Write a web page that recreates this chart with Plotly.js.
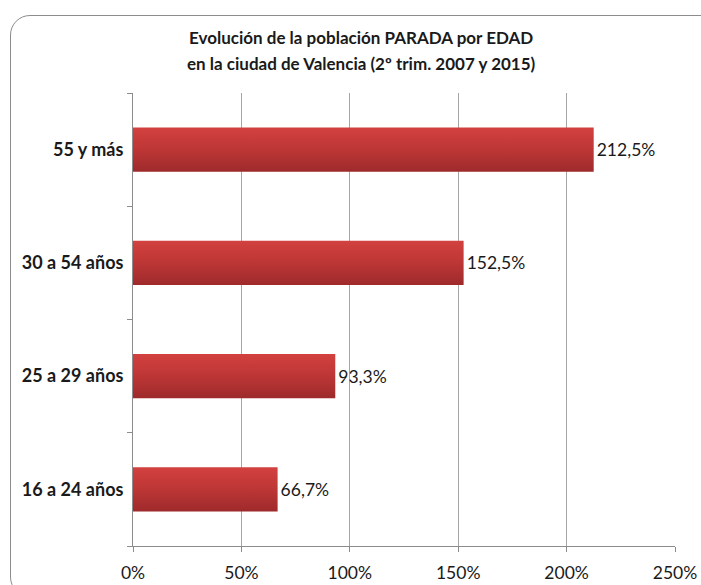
<!DOCTYPE html>
<html>
<head>
<meta charset="utf-8">
<script src="https://cdn.plot.ly/plotly-3.0.1.min.js"></script>
<style>
  html, body { margin: 0; padding: 0; background: #fff; }
  #wrap { position: relative; width: 701px; height: 585px; overflow: hidden; }
  #frame { position: absolute; left: 10px; top: 15px; width: 712px; height: 582px;
           border: 1.3px solid #8c8c8c; border-radius: 20px; box-sizing: border-box; }
  #chart { position: absolute; left: 0; top: 0; width: 701px; height: 585px; }
</style>
</head>
<body>
<div id="wrap">
  <div id="frame"></div>
  <div id="chart"></div>
</div>
<script>
const categories = ["16 a 24 años", "25 a 29 años", "30 a 54 años", "55 y más"];
const values = [66.7, 93.3, 152.5, 212.5];
const tickValues = [0, 50, 100, 150, 200, 250];
const tickLabels = ["0%", "50%", "100%", "150%", "200%", "250%"];
const titleLines = ["Evolución de la población PARADA por EDAD", "en la ciudad de Valencia (2º trim. 2007 y 2015)"];

const FONT = "Lato, 'Open Sans', sans-serif";

const trace = {
  type: "bar",
  orientation: "h",
  x: values,
  y: categories,
  marker: { color: "#bb3536", line: { width: 0 } },
  texttemplate: "%{x:.1f}%",
  textposition: "outside",
  cliponaxis: false,
  textfont: { family: FONT, size: 17.5, color: "#1a1a1a" },
  hoverinfo: "skip"
};

const titleFont = { family: FONT, size: 17, color: "#1a1a1a", weight: "bold" };

const layout = {
  width: 701,
  height: 585,
  paper_bgcolor: "rgba(0,0,0,0)",
  plot_bgcolor: "rgba(0,0,0,0)",
  separators: ",.",
  margin: { l: 133, r: 26, t: 93, b: 39, pad: 0 },
  showlegend: false,
  bargap: 0.61,
  font: { family: FONT, color: "#1a1a1a" },
  annotations: [
    { text: titleLines[0], xref: "paper", yref: "paper", x: 0.4207, y: 1.1233,
      xanchor: "center", yanchor: "middle", showarrow: false, font: titleFont },
    { text: titleLines[1], xref: "paper", yref: "paper", x: 0.4207, y: 1.0661,
      xanchor: "center", yanchor: "middle", showarrow: false, font: titleFont }
  ],
  xaxis: {
    range: [0, 250],
    tickvals: tickValues,
    ticktext: tickLabels,
    showgrid: true,
    gridcolor: "#a6a6a6",
    gridwidth: 1,
    zeroline: false,
    showline: true,
    linecolor: "#8c8c8c",
    linewidth: 1,
    ticks: "outside",
    ticklen: 5,
    tickcolor: "#8c8c8c",
    ticklabelstandoff: 6,
    tickfont: { family: FONT, size: 17.5, color: "#1a1a1a" },
    fixedrange: true
  },
  yaxis: {
    type: "category",
    categoryorder: "array",
    categoryarray: categories,
    showgrid: false,
    zeroline: false,
    showline: true,
    linecolor: "#8c8c8c",
    linewidth: 1,
    ticks: "outside",
    tickson: "boundaries",
    ticklen: 5,
    tickcolor: "#8c8c8c",
    ticklabelstandoff: 5,
    tickfont: { family: FONT, size: 18, color: "#1a1a1a", weight: "bold" },
    fixedrange: true
  }
};

Plotly.newPlot("chart", [trace], layout, { displayModeBar: false, staticPlot: true }).then(function (gd) {
  const svg = gd.querySelector("svg.main-svg");
  const ns = "http://www.w3.org/2000/svg";
  let defs = svg.querySelector("defs");
  if (!defs) { defs = document.createElementNS(ns, "defs"); svg.insertBefore(defs, svg.firstChild); }
  const grad = document.createElementNS(ns, "linearGradient");
  grad.setAttribute("id", "barGrad");
  grad.setAttribute("x1", "0"); grad.setAttribute("y1", "0");
  grad.setAttribute("x2", "0"); grad.setAttribute("y2", "1");
  [["0", "#d2413f"], ["0.5", "#bd3636"], ["1", "#9e2a2b"]].forEach(function (s) {
    const st = document.createElementNS(ns, "stop");
    st.setAttribute("offset", s[0]);
    st.setAttribute("stop-color", s[1]);
    grad.appendChild(st);
  });
  defs.appendChild(grad);
  gd.querySelectorAll(".bars .point path").forEach(function (p) {
    p.style.fill = "url(#barGrad)";
  });
});
</script>
</body>
</html>
